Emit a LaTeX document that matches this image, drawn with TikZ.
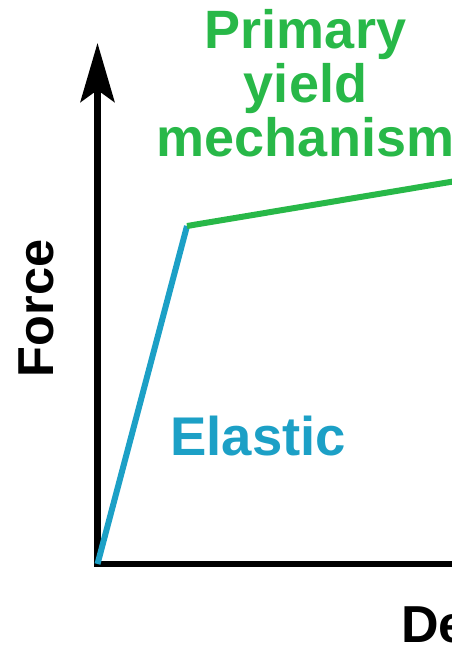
\documentclass[tikz,border=0pt]{standalone}
\usepackage{fontspec}
\setmainfont{Liberation Sans}
\usepackage{tikz}
\usetikzlibrary{arrows.meta}
\definecolor{yieldgreen}{RGB}{40,184,72}
\definecolor{elasticblue}{RGB}{28,160,198}

\begin{document}
\begin{tikzpicture}[x=1pt, y=-1pt,
  axis/.style={line width=6.5pt, line join=miter},
  curve/.style={line width=6pt},
  big/.style={inner sep=0pt, font=\fontsize{52}{54}\selectfont\bfseries}]
\useasboundingbox (0,0) rectangle (452,648);
\clip (0,0) rectangle (452,648);
% axes
\coordinate (O) at (97.5,564);
\coordinate (Y) at (97.5,43);
\coordinate (X) at (480,564);
\draw[axis, {Stealth[length=59pt, width=34pt, inset=12pt]}-] (Y) -- (O) -- (X);
% force-deformation curve
\coordinate (K) at (187,226);
\coordinate (G) at (480,177);
\draw[curve, elasticblue] (O) -- (K);
\draw[curve, yieldgreen] (K) -- (G);
% labels (base of a multi-line node = last line)
\node[big, text=yieldgreen, align=center, anchor=base, font=\fontsize{54}{54}\selectfont\bfseries]
  (yield) at (305.5,156) {Primary\\yield\\mechanism};
\node[big, text=elasticblue, anchor=base west, font=\fontsize{54.5}{56}\selectfont\bfseries]
  (elastic) at (170,455) {Elastic};
\node[big, rotate=90, anchor=base, font=\fontsize{50.5}{52}\selectfont\bfseries]
  (force) at (53,308.5) {Force};
\node[big, anchor=base west] (deform) at (401,642) {Deformation};
\end{tikzpicture}
\end{document}
